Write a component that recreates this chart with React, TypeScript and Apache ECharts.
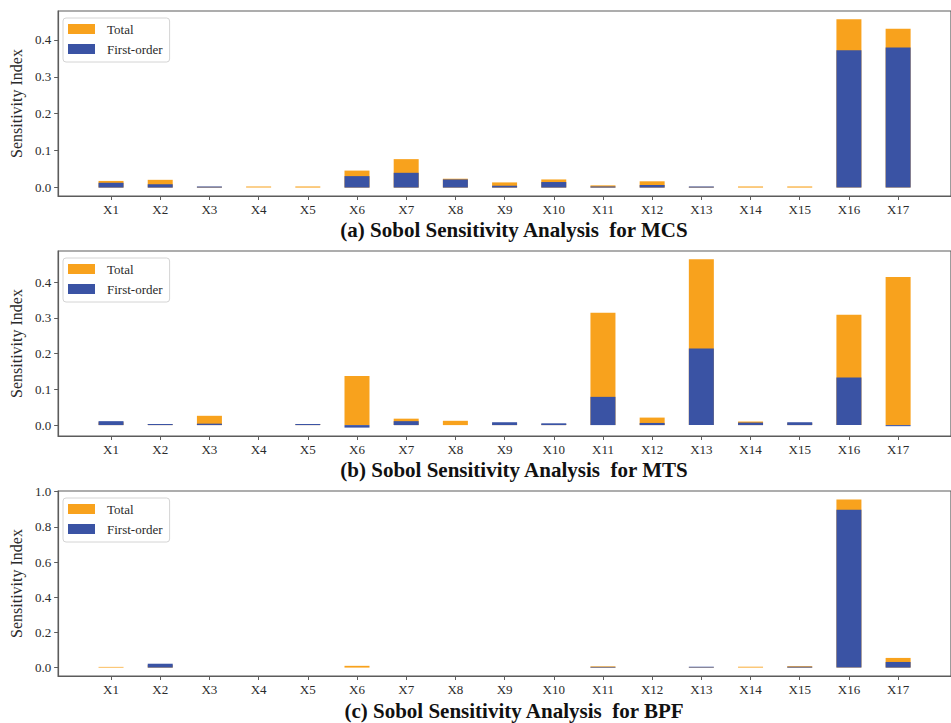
import React, { useEffect, useRef } from "react";
import * as echarts from "echarts";

// Input variables X1..X17
const variables = [
  "X1", "X2", "X3", "X4", "X5", "X6", "X7", "X8", "X9",
  "X10", "X11", "X12", "X13", "X14", "X15", "X16", "X17",
];

// (a) MCS
const mcsTotal = [0.018, 0.021, 0.002, 0.003, 0.003, 0.046, 0.077, 0.024, 0.014, 0.022, 0.006, 0.017, 0.002, 0.003, 0.003, 0.456, 0.43];
const mcsFirst = [0.013, 0.009, 0.003, 0.0, 0.0, 0.031, 0.04, 0.022, 0.005, 0.015, 0.003, 0.007, 0.003, 0.0, 0.0, 0.372, 0.379];

// (b) MTS
const mtsTotal = [0.008, 0.002, 0.026, 0.0, 0.002, 0.137, 0.018, 0.012, 0.005, 0.003, 0.314, 0.021, 0.464, 0.01, 0.006, 0.309, 0.414];
const mtsFirst = [0.011, 0.003, 0.004, 0.0, 0.003, -0.007, 0.011, 0.0, 0.008, 0.005, 0.079, 0.006, 0.214, 0.007, 0.008, 0.133, -0.003];

// (c) BPF
const bpfTotal = [0.004, 0.015, 0.0, 0.0, 0.0, 0.01, 0.0, 0.0, 0.0, 0.0, 0.007, 0.0, 0.003, 0.005, 0.008, 0.956, 0.055];
const bpfFirst = [0.0, 0.022, 0.0, 0.0, 0.0, 0.0, 0.0, 0.0, 0.0, 0.0, 0.004, 0.0, 0.005, 0.0, 0.005, 0.898, 0.032];

const yTicksA = [0, 0.1, 0.2, 0.3, 0.4];
const yTicksB = [0, 0.1, 0.2, 0.3, 0.4];
const yTicksC = [0, 0.2, 0.4, 0.6, 0.8, 1.0];

const panelTitles = [
  "(a) Sobol Sensitivity Analysis  for MCS",
  "(b) Sobol Sensitivity Analysis  for MTS",
  "(c) Sobol Sensitivity Analysis  for BPF",
];

const ORANGE = "#F8A21D";
const BLUE = "#3A53A4";
const SPINE = "#5c5c5c";
const TEXT = "#2a2a2a";
const SERIF = "'Liberation Serif', 'Times New Roman', Times, serif";

export default function App() {
  const ref = useRef<HTMLDivElement>(null);

  useEffect(() => {
    if (!ref.current) return;
    const chart = echarts.init(ref.current, undefined, { renderer: "svg" });

    const panels = [
      { total: mcsTotal, first: mcsFirst, ticks: yTicksA, yMin: -0.0228, yMax: 0.478, top: 11 },
      { total: mtsTotal, first: mtsFirst, ticks: yTicksB, yMin: -0.0305, yMax: 0.487, top: 251 },
      { total: bpfTotal, first: bpfFirst, ticks: yTicksC, yMin: -0.0478, yMax: 1.004, top: 491 },
    ];
    const titleY = [229.5, 470, 711];
    const xIdx = variables.map((_, i) => i);

    const grids = panels.map((p) => ({
      left: 56,
      right: -11.75,
      top: p.top,
      height: 185,
      show: true,
      borderColor: SPINE,
      borderWidth: 1.2,
      backgroundColor: "#fff",
    }));

    const xAxes = panels.map((_, gi) => ({
      type: "value",
      gridIndex: gi,
      min: -1.075,
      max: 17.075,
      splitLine: { show: false },
      axisLine: { show: true, onZero: false, lineStyle: { color: SPINE, width: 1.2 } },
      axisTick: {
        show: true,
        customValues: xIdx,
        length: 4,
        lineStyle: { color: SPINE, width: 1 },
      },
      axisLabel: {
        customValues: xIdx,
        formatter: (v: number) => variables[Math.round(v)] ?? "",
        fontFamily: SERIF,
        fontSize: 13,
        color: TEXT,
        margin: 7,
      },
    }));

    const yAxes = panels.map((p, gi) => ({
      type: "value",
      gridIndex: gi,
      min: p.yMin,
      max: p.yMax,
      splitLine: { show: false },
      name: "Sensitivity Index",
      nameLocation: "middle",
      nameRotate: 90,
      nameGap: 31,
      nameTextStyle: { fontFamily: SERIF, fontSize: 16, color: TEXT },
      axisLine: { show: true, onZero: false, lineStyle: { color: SPINE, width: 1.2 } },
      axisTick: {
        show: true,
        customValues: p.ticks,
        length: 4,
        lineStyle: { color: SPINE, width: 1 },
      },
      axisLabel: {
        customValues: p.ticks,
        formatter: (v: number) => v.toFixed(1),
        fontFamily: SERIF,
        fontSize: 13,
        color: TEXT,
        margin: 7,
      },
    }));

    const series: any[] = [];
    panels.forEach((p, gi) => {
      series.push({
        type: "bar",
        name: "Total",
        xAxisIndex: gi,
        yAxisIndex: gi,
        barWidth: 25,
        barGap: "-100%",
        itemStyle: { color: ORANGE },
        data: p.total.map((v, i) => [i, v]),
      });
      series.push({
        type: "bar",
        name: "First-order",
        xAxisIndex: gi,
        yAxisIndex: gi,
        barWidth: 25,
        barGap: "-100%",
        itemStyle: { color: BLUE },
        data: p.first.map((v, i) => [i, v]),
      });
    });

    const legends = panels.map((p) => ({
      data: ["Total", "First-order"],
      orient: "vertical",
      left: 63,
      top: p.top + 7,
      icon: "rect",
      itemWidth: 27,
      itemHeight: 10,
      itemGap: 6,
      padding: [4, 7, 6, 5],
      backgroundColor: "rgba(255,255,255,0.9)",
      borderColor: "#d4d4d4",
      borderWidth: 1,
      borderRadius: 3,
      selectedMode: false,
      textStyle: {
        fontFamily: SERIF,
        fontSize: 13,
        lineHeight: 14,
        color: TEXT,
        padding: [0, 0, 0, 7],
      },
    }));

    const graphics = panelTitles.map((t, i) => ({
      type: "text",
      x: 514,
      y: titleY[i],
      style: {
        text: t,
        font: `bold 21px ${SERIF}`,
        fill: "#111",
        textAlign: "center",
        textVerticalAlign: "middle",
      },
    }));

    chart.setOption({
      animation: false,
      backgroundColor: "#fff",
      grid: grids,
      xAxis: xAxes,
      yAxis: yAxes,
      legend: legends,
      series,
      graphic: graphics,
    } as any);

    return () => chart.dispose();
  }, []);

  return (
    <div
      ref={ref}
      style={{ position: "absolute", left: 0, top: 0, width: 951, height: 723 }}
    />
  );
}
